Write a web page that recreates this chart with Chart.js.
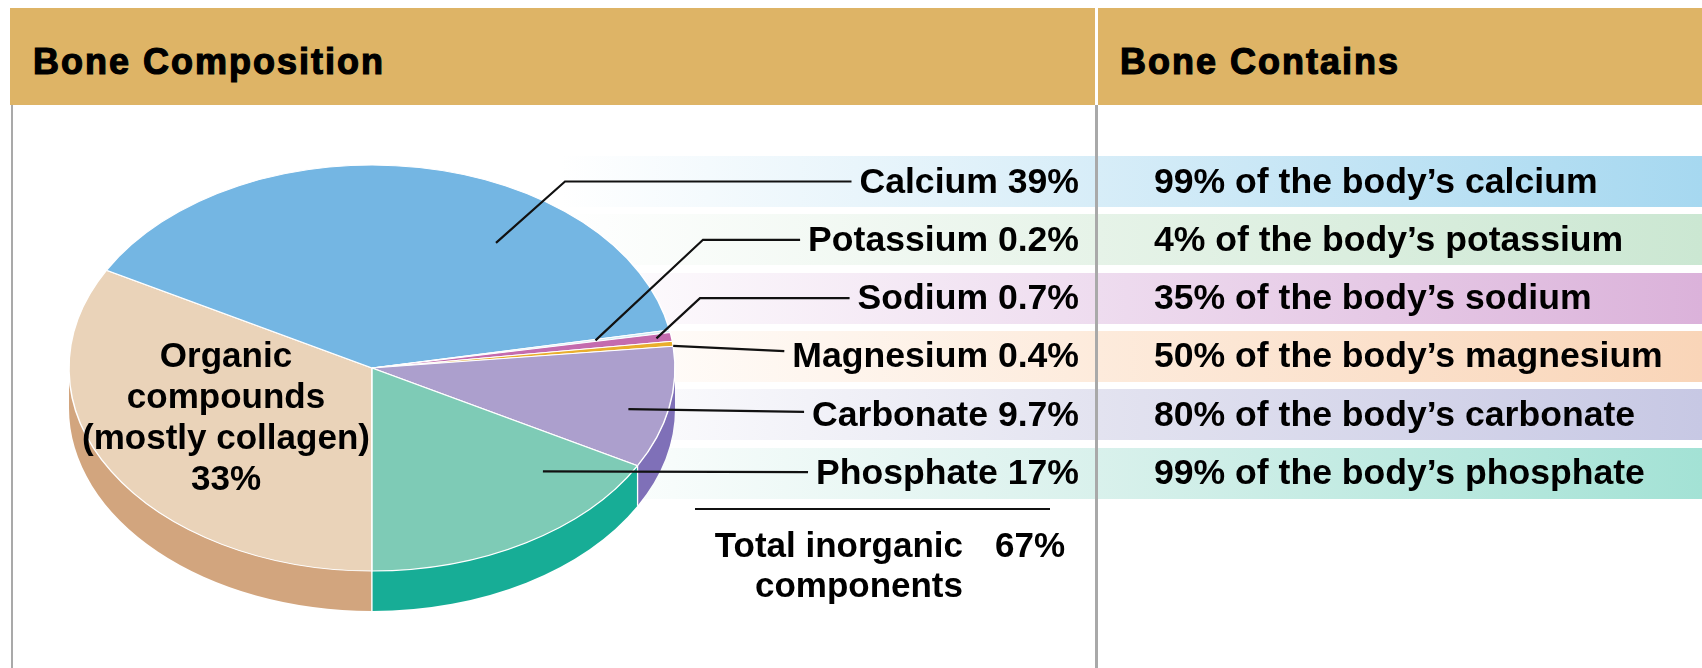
<!DOCTYPE html>
<html>
<head>
<meta charset="utf-8">
<title>Bone Composition</title>
<script src="https://cdn.jsdelivr.net/npm/chart.js@4.4.1/dist/chart.umd.min.js"></script>
<style>
  html, body { margin: 0; padding: 0; background: #ffffff; }
  #stage {
    position: relative; width: 1702px; height: 668px; overflow: hidden;
    font-family: "Liberation Sans", Arial, Helvetica, sans-serif; font-weight: bold; color: #000;
  }
  .abs { position: absolute; }
  .txt { position: absolute; white-space: nowrap; font-size: 35px; line-height: 36px; height: 36px; }
  .row { font-size: 35.6px; }
  .head { position: absolute; white-space: nowrap; font-size: 36px; line-height: 40px; letter-spacing: 2px;
          -webkit-text-stroke: 1.2px #000; top: 42px; }
  canvas { position: absolute; left: 0; top: 0; }
</style>
</head>
<body>
<div id="stage">
  <div class="abs" style="left:10px;top:8px;width:1692px;height:97px;background:#DEB466;"></div>
  <div class="abs" style="left:1095px;top:8px;width:3px;height:97px;background:#ffffff;"></div>
  <div class="abs" style="left:11px;top:105px;width:2px;height:563px;background:#A9A9A9;"></div>
  <div class="abs" style="left:1095px;top:105px;width:3px;height:563px;background:#A9A9A9;"></div>
  <div class="head" style="left:33px;">Bone Composition</div>
  <div class="head" style="left:1120px;">Bone Contains</div>
  <div id="bands"></div>
  <canvas id="pie" width="1702" height="668"></canvas>
  <div id="labels"></div>
</div>
<script>
// ---- data ----
const sliceLabels = ['Organic compounds (mostly collagen)', 'Calcium', 'Potassium', 'Sodium', 'Magnesium', 'Carbonate', 'Phosphate'];
const sliceValues = [33, 39, 0.2, 0.7, 0.4, 9.7, 17];
const mineralNames = ['calcium', 'potassium', 'sodium', 'magnesium', 'carbonate', 'phosphate'];
const bodyShare = [99, 4, 35, 50, 80, 99];
const organicLines = ['Organic', 'compounds', '(mostly collagen)'];
const inorganicTotal = 67;

// ---- styles ----
const topColors  = ['#EAD3B9', '#74B6E3', '#D3ECF3', '#C46BAE', '#E9AE2D', '#AC9FCD', '#7ECBB6'];
const sideColors = ['#D2A57E', '#4E95C8', '#A8CFDB', '#A24F8E', '#C98F1E', '#7F70B8', '#17AD96'];
const bandTints = [
  ['#D7EDF8', '#A6D8F0'],
  ['#E6F3E8', '#CBE7D2'],
  ['#EEDCEF', '#DBB2DA'],
  ['#FDEBDC', '#F9D5B8'],
  ['#E3E3F0', '#C7C8E4'],
  ['#D9F1EC', '#A3E2D5']
];

// ---- layout ----
const TILT = 203 / 303;     // vertical squash of the pie top
const DEPTH = 40;           // thickness of the pie wall
const ROW_TOP = 156, ROW_PITCH = 58.3, ROW_H = 51;
const LABEL_RIGHT = 1079;   // right edge of the left-column labels
const SHARE_LEFT = 1154;    // left edge of the right-column text
const LABEL_FONT = 'bold 35.6px "Liberation Sans", Arial, sans-serif';
// where each leader line touches its slice: fraction along the arc, fraction of radius, optional elbow x
const leaders = [
  { t: 0.675, r: 0.74, elbow: 565 },
  { t: 0.5,   r: 0.75, elbow: 703 },
  { t: 0.5,   r: 0.95, elbow: 700 },
  { t: 0.9,   r: 1.0 },
  { t: 0.56,  r: 0.87 },
  { t: 0.217, r: 0.76 }
];

const rowCenter = i => ROW_TOP + i * ROW_PITCH + ROW_H / 2;
const mineralLabel = i => `${sliceLabels[i + 1]} ${sliceValues[i + 1]}%`;

// ---- row bands and text ----
const bands = document.getElementById('bands');
const labels = document.getElementById('labels');
function addText(parent, text, x, y, align, cls) {
  const d = document.createElement('div');
  d.className = 'txt' + (cls ? ' ' + cls : '');
  d.textContent = text;
  d.style.top = (y - 18) + 'px';
  if (align === 'right') { d.style.right = (1702 - x) + 'px'; d.style.textAlign = 'right'; }
  else if (align === 'center') { d.style.left = x + 'px'; d.style.transform = 'translateX(-50%)'; d.style.textAlign = 'center'; }
  else d.style.left = x + 'px';
  parent.appendChild(d);
  return d;
}
mineralNames.forEach((name, i) => {
  const top = ROW_TOP + i * ROW_PITCH;
  const [light, strong] = bandTints[i];
  const l = document.createElement('div');
  l.className = 'abs';
  Object.assign(l.style, { left: '560px', width: '535px', top: top + 'px', height: ROW_H + 'px',
    background: `linear-gradient(to right, rgba(255,255,255,0) 0%, ${light} 100%)` });
  bands.appendChild(l);
  const r = document.createElement('div');
  r.className = 'abs';
  Object.assign(r.style, { left: '1098px', width: '604px', top: top + 'px', height: ROW_H + 'px',
    background: `linear-gradient(to right, ${light} 0%, ${strong} 100%)` });
  bands.appendChild(r);
  addText(labels, mineralLabel(i), LABEL_RIGHT, rowCenter(i) - 1, 'right', 'row');
  addText(labels, `${bodyShare[i]}% of the body\u2019s ${name}`, SHARE_LEFT, rowCenter(i) - 1, 'left', 'row');
});

// organic label inside the pie
[...organicLines, `${sliceValues[0]}%`].forEach((line, j) => {
  addText(labels, line, 226, 355 + j * 41, 'center');
});

// inorganic total
const sep = document.createElement('div');
sep.className = 'abs';
Object.assign(sep.style, { left: '695px', width: '355px', top: '508px', height: '2px', background: '#111' });
labels.appendChild(sep);
addText(labels, 'Total inorganic', 963, 545, 'right');
addText(labels, `${inorganicTotal}%`, 995, 545, 'left');
addText(labels, 'components', 963, 585, 'right');

// ---- pie with tilted top and wall ----
const tiltPlugin = {
  id: 'tilt',
  beforeDatasetsDraw(chart) {
    const ctx = chart.ctx;
    const arcs = chart.getDatasetMeta(0).data;
    const cx = arcs[0].x, cy = arcs[0].y, R = arcs[0].outerRadius;
    const ry = R * TILT;
    arcs.forEach((arc, i) => {
      for (let k = -1; k <= 2; k++) {
        const lo = Math.max(arc.startAngle, 2 * Math.PI * k);
        const hi = Math.min(arc.endAngle, 2 * Math.PI * k + Math.PI);
        if (hi <= lo) continue;
        ctx.beginPath();
        ctx.ellipse(cx, cy, R, ry, 0, lo, hi);
        ctx.ellipse(cx, cy + DEPTH, R, ry, 0, hi, lo, true);
        ctx.closePath();
        ctx.fillStyle = sideColors[i];
        ctx.fill();
        ctx.strokeStyle = '#ffffff';
        ctx.lineWidth = 1.2;
        [lo, hi].forEach(a => {
          if (a === arc.startAngle || a === arc.endAngle) {
            const px = cx + R * Math.cos(a), py = cy + ry * Math.sin(a);
            ctx.beginPath(); ctx.moveTo(px, py); ctx.lineTo(px, py + DEPTH); ctx.stroke();
          }
        });
      }
    });
    ctx.save();
    ctx.translate(cx, cy);
    ctx.scale(1, TILT);
    ctx.translate(-cx, -cy);
  },
  afterDatasetsDraw(chart) {
    chart.ctx.restore();
  }
};

const leaderPlugin = {
  id: 'leaders',
  afterDraw(chart) {
    const ctx = chart.ctx;
    const arcs = chart.getDatasetMeta(0).data;
    const cx = arcs[0].x, cy = arcs[0].y, R = arcs[0].outerRadius;
    ctx.save();
    ctx.font = LABEL_FONT;
    ctx.strokeStyle = '#111';
    ctx.lineWidth = 2.2;
    leaders.forEach((ld, i) => {
      const arc = arcs[i + 1];
      const a = arc.startAngle + ld.t * (arc.endAngle - arc.startAngle);
      const ax = cx + ld.r * R * Math.cos(a);
      const ay = cy + ld.r * R * TILT * Math.sin(a);
      const y = rowCenter(i);
      const endX = LABEL_RIGHT - ctx.measureText(mineralLabel(i)).width - 8;
      ctx.beginPath();
      ctx.moveTo(ax, ay);
      if (ld.elbow) ctx.lineTo(ld.elbow, y);
      ctx.lineTo(endX, ld.elbow ? y : (ay + y) / 2);
      ctx.stroke();
    });
    ctx.restore();
  }
};

new Chart(document.getElementById('pie'), {
  type: 'pie',
  data: {
    labels: sliceLabels,
    datasets: [{
      data: sliceValues,
      backgroundColor: topColors,
      borderColor: '#ffffff',
      borderWidth: 1.5,
      rotation: 180,
      radius: 303,
      clip: false
    }]
  },
  options: {
    responsive: false,
    animation: false,
    events: [],
    layout: { padding: { left: 0, right: 958, top: 68, bottom: 0 } },
    plugins: { legend: { display: false }, tooltip: { enabled: false } }
  },
  plugins: [tiltPlugin, leaderPlugin]
});
</script>
</body>
</html>
